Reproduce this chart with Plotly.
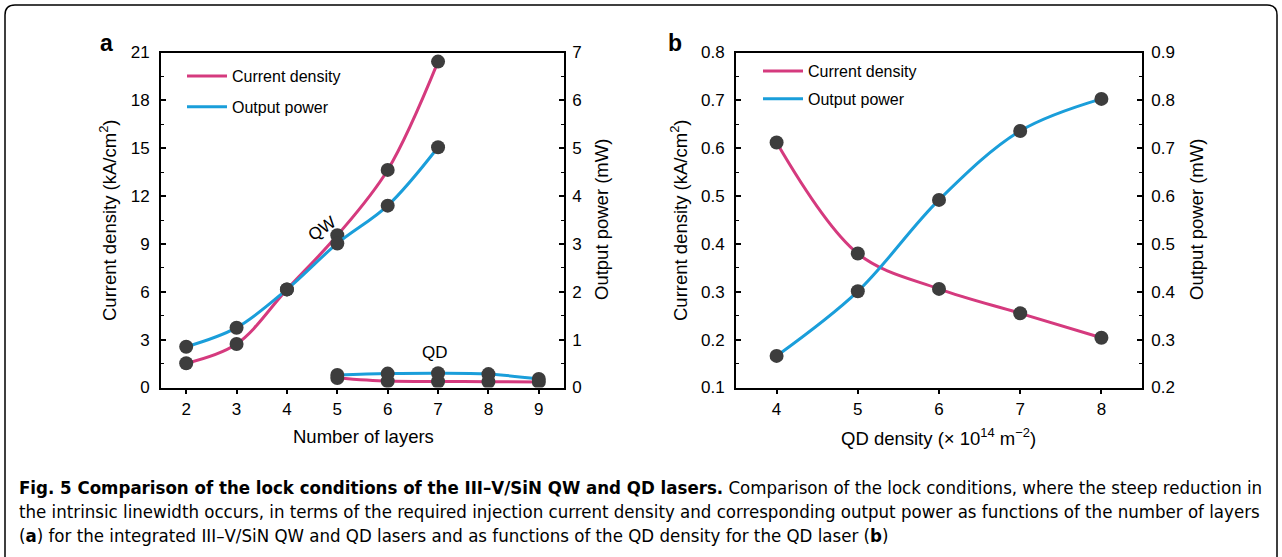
import plotly.graph_objects as go

W, H = 1282, 557

# ---------------- data ----------------
layers_qw = [2, 3, 4, 5, 6, 7]
qw_current = [1.52, 2.73, 6.15, 9.54, 13.64, 20.43]   # kA/cm^2
qw_power = [0.85, 1.25, 2.05, 3.01, 3.80, 5.02]        # mW

layers_qd = [5, 6, 7, 8, 9]
qd_current = [0.60, 0.40, 0.38, 0.36, 0.35]            # kA/cm^2
qd_power = [0.26, 0.29, 0.30, 0.28, 0.18]              # mW

qd_density = [4, 5, 6, 7, 8]                           # x10^14 m^-2
b_current = [0.612, 0.380, 0.306, 0.255, 0.204]        # kA/cm^2
b_power = [0.266, 0.401, 0.592, 0.736, 0.803]          # mW

a_xticks = [2, 3, 4, 5, 6, 7, 8, 9]
b_xticks = [4, 5, 6, 7, 8]

MAG = "rgb(213,58,126)"
BLU = "rgb(26,158,218)"
DOT = "#3d3d3d"
FONT = "Liberation Sans, Arial, sans-serif"

def px(x):
    return x / W

def py(y):
    return 1 - y / H

fig = go.Figure()

def line(x, y, color, name, xa, ya, legend=None, show=False, group=None):
    fig.add_trace(go.Scatter(
        x=x, y=y, mode="lines", name=name,
        line=dict(color=color, width=3, shape="spline", smoothing=1.0),
        xaxis=xa, yaxis=ya, showlegend=show, legend=legend,
        legendgroup=group, hoverinfo="skip"))

def dots(x, y, xa, ya):
    fig.add_trace(go.Scatter(
        x=x, y=y, mode="markers",
        marker=dict(color=DOT, size=14, line=dict(width=0)),
        xaxis=xa, yaxis=ya, showlegend=False, hoverinfo="skip"))

# panel a
line(layers_qw, qw_current, MAG, "Current density", "x", "y", "legend", True, "a1")
line(layers_qw, qw_power, BLU, "Output power", "x", "y2", "legend", True, "a2")
line(layers_qd, qd_current, MAG, "qd_c", "x", "y")
line(layers_qd, qd_power, BLU, "qd_p", "x", "y2")
dots(layers_qw, qw_current, "x", "y")
dots(layers_qw, qw_power, "x", "y2")
dots(layers_qd, qd_current, "x", "y")
dots(layers_qd, qd_power, "x", "y2")

# panel b
line(qd_density, b_current, MAG, "Current density", "x2", "y3", "legend2", True, "b1")
line(qd_density, b_power, BLU, "Output power", "x2", "y4", "legend2", True, "b2")
dots(qd_density, b_current, "x2", "y3")
dots(qd_density, b_power, "x2", "y4")

ydom = [py(387.5), py(52.5)]
tickfont = dict(family=FONT, size=17, color="black")
common = dict(showline=True, linecolor="black", linewidth=1.8, showgrid=False,
              zeroline=False, tickfont=tickfont, tickcolor="black", automargin=False)
yin = dict(ticks="inside", ticklen=5, tickwidth=1.5,
           minor=dict(ticks="inside", ticklen=3, tickwidth=1.2, tickcolor="black"))

fig.update_layout(
    template="none",
    width=W, height=H, margin=dict(l=0, r=0, t=0, b=0, pad=0, autoexpand=False),
    paper_bgcolor="white", plot_bgcolor="white",
    font=dict(family=FONT, size=16, color="black"),
    xaxis=dict(domain=[px(161), px(564)], range=[1.5, 9.5], tickvals=a_xticks,
               ticks="outside", ticklen=5, tickwidth=1.5, mirror=True,
               anchor="y", **common),
    yaxis=dict(domain=ydom, range=[0, 21], dtick=3, anchor="x",
               minor_dtick=1.5, ticklabelstandoff=6, **yin, **common),
    yaxis2=dict(domain=ydom, range=[0, 7], dtick=1, anchor="x", overlaying="y",
                side="right", minor_dtick=0.5, ticklabelstandoff=3, **yin, **common),
    xaxis2=dict(domain=[px(736), px(1142)], range=[3.5, 8.5], tickvals=b_xticks,
                ticks="outside", ticklen=5, tickwidth=1.5, mirror=True,
                anchor="y3", **common),
    yaxis3=dict(domain=ydom, range=[0.1, 0.8], dtick=0.1, tickformat=".1f",
                anchor="x2", minor_dtick=0.05, ticklabelstandoff=6, **yin, **common),
    yaxis4=dict(domain=ydom, range=[0.2, 0.9], dtick=0.1, tickformat=".1f",
                anchor="x2", overlaying="y3", side="right", minor_dtick=0.05,
                ticklabelstandoff=4, **yin, **common),
    legend=dict(x=px(182), y=py(59), xanchor="left", yanchor="top",
                bgcolor="rgba(0,0,0,0)", font=dict(family=FONT, size=16),
                traceorder="grouped", tracegroupgap=7, itemwidth=40),
    legend2=dict(x=px(758), y=py(54), xanchor="left", yanchor="top",
                 bgcolor="rgba(0,0,0,0)", font=dict(family=FONT, size=16),
                 traceorder="grouped", tracegroupgap=4, itemwidth=40),
)

ann = []
def text(x, y, s, size=18.5, angle=0, xanchor="center", yanchor="middle", family=FONT):
    ann.append(dict(x=px(x), y=py(y), xref="paper", yref="paper", text=s,
                    showarrow=False, textangle=angle, xanchor=xanchor,
                    yanchor=yanchor, font=dict(family=family, size=size, color="black")))

# axis titles
text(363, 436, "Number of layers")
text(108, 220, "Current density (kA/cm<sup>2</sup>)", angle=-90)
text(601, 220, "Output power (mW)", angle=-90)
text(939, 437, "QD density (\u00d7 10<sup>14</sup> m<sup>\u22122</sup>)")
text(679, 220, "Current density (kA/cm<sup>2</sup>)", angle=-90)
text(1196, 220, "Output power (mW)", angle=-90)
# panel letters
text(106, 43, "<b>a</b>", size=23)
text(675, 43, "<b>b</b>", size=23)
# curve labels
text(322, 228, "QW", size=17, angle=-35)
text(435, 352, "QD", size=17)

CAP = "DejaVu Sans Condensed, Liberation Sans Narrow, sans-serif"
cap1 = ("<b>Fig. 5 Comparison of the lock conditions of the III\u2013V/SiN QW and QD lasers.</b> "
        "Comparison of the lock conditions, where the steep reduction in")
cap2 = ("the intrinsic linewidth occurs, in terms of the required injection current density "
        "and corresponding output power as functions of the number of layers")
cap3 = ("(<b>a</b>) for the integrated III\u2013V/SiN QW and QD lasers and as functions of the "
        "QD density for the QD laser (<b>b</b>)")
text(17, 487, cap1, size=18.5, xanchor="left", family=CAP)
text(17, 511, cap2, size=18.5, xanchor="left", family=CAP)
text(17, 535, cap3, size=18.5, xanchor="left", family=CAP)

fig.update_layout(annotations=ann)

# outer rounded frame
r = 10
path = (f"M {px(5)},{py(600)} L {px(5)},{py(5 + r)} Q {px(5)},{py(5)} {px(5 + r)},{py(5)} "
        f"L {px(1277 - r)},{py(5)} Q {px(1277)},{py(5)} {px(1277)},{py(5 + r)} "
        f"L {px(1277)},{py(600)}")
fig.add_shape(type="path", path=path, xref="paper", yref="paper",
              line=dict(color="black", width=1.5))

fig.write_html("out.html", config={"displayModeBar": False},
               post_script="document.body.style.margin='0';document.body.style.overflow='hidden';")
